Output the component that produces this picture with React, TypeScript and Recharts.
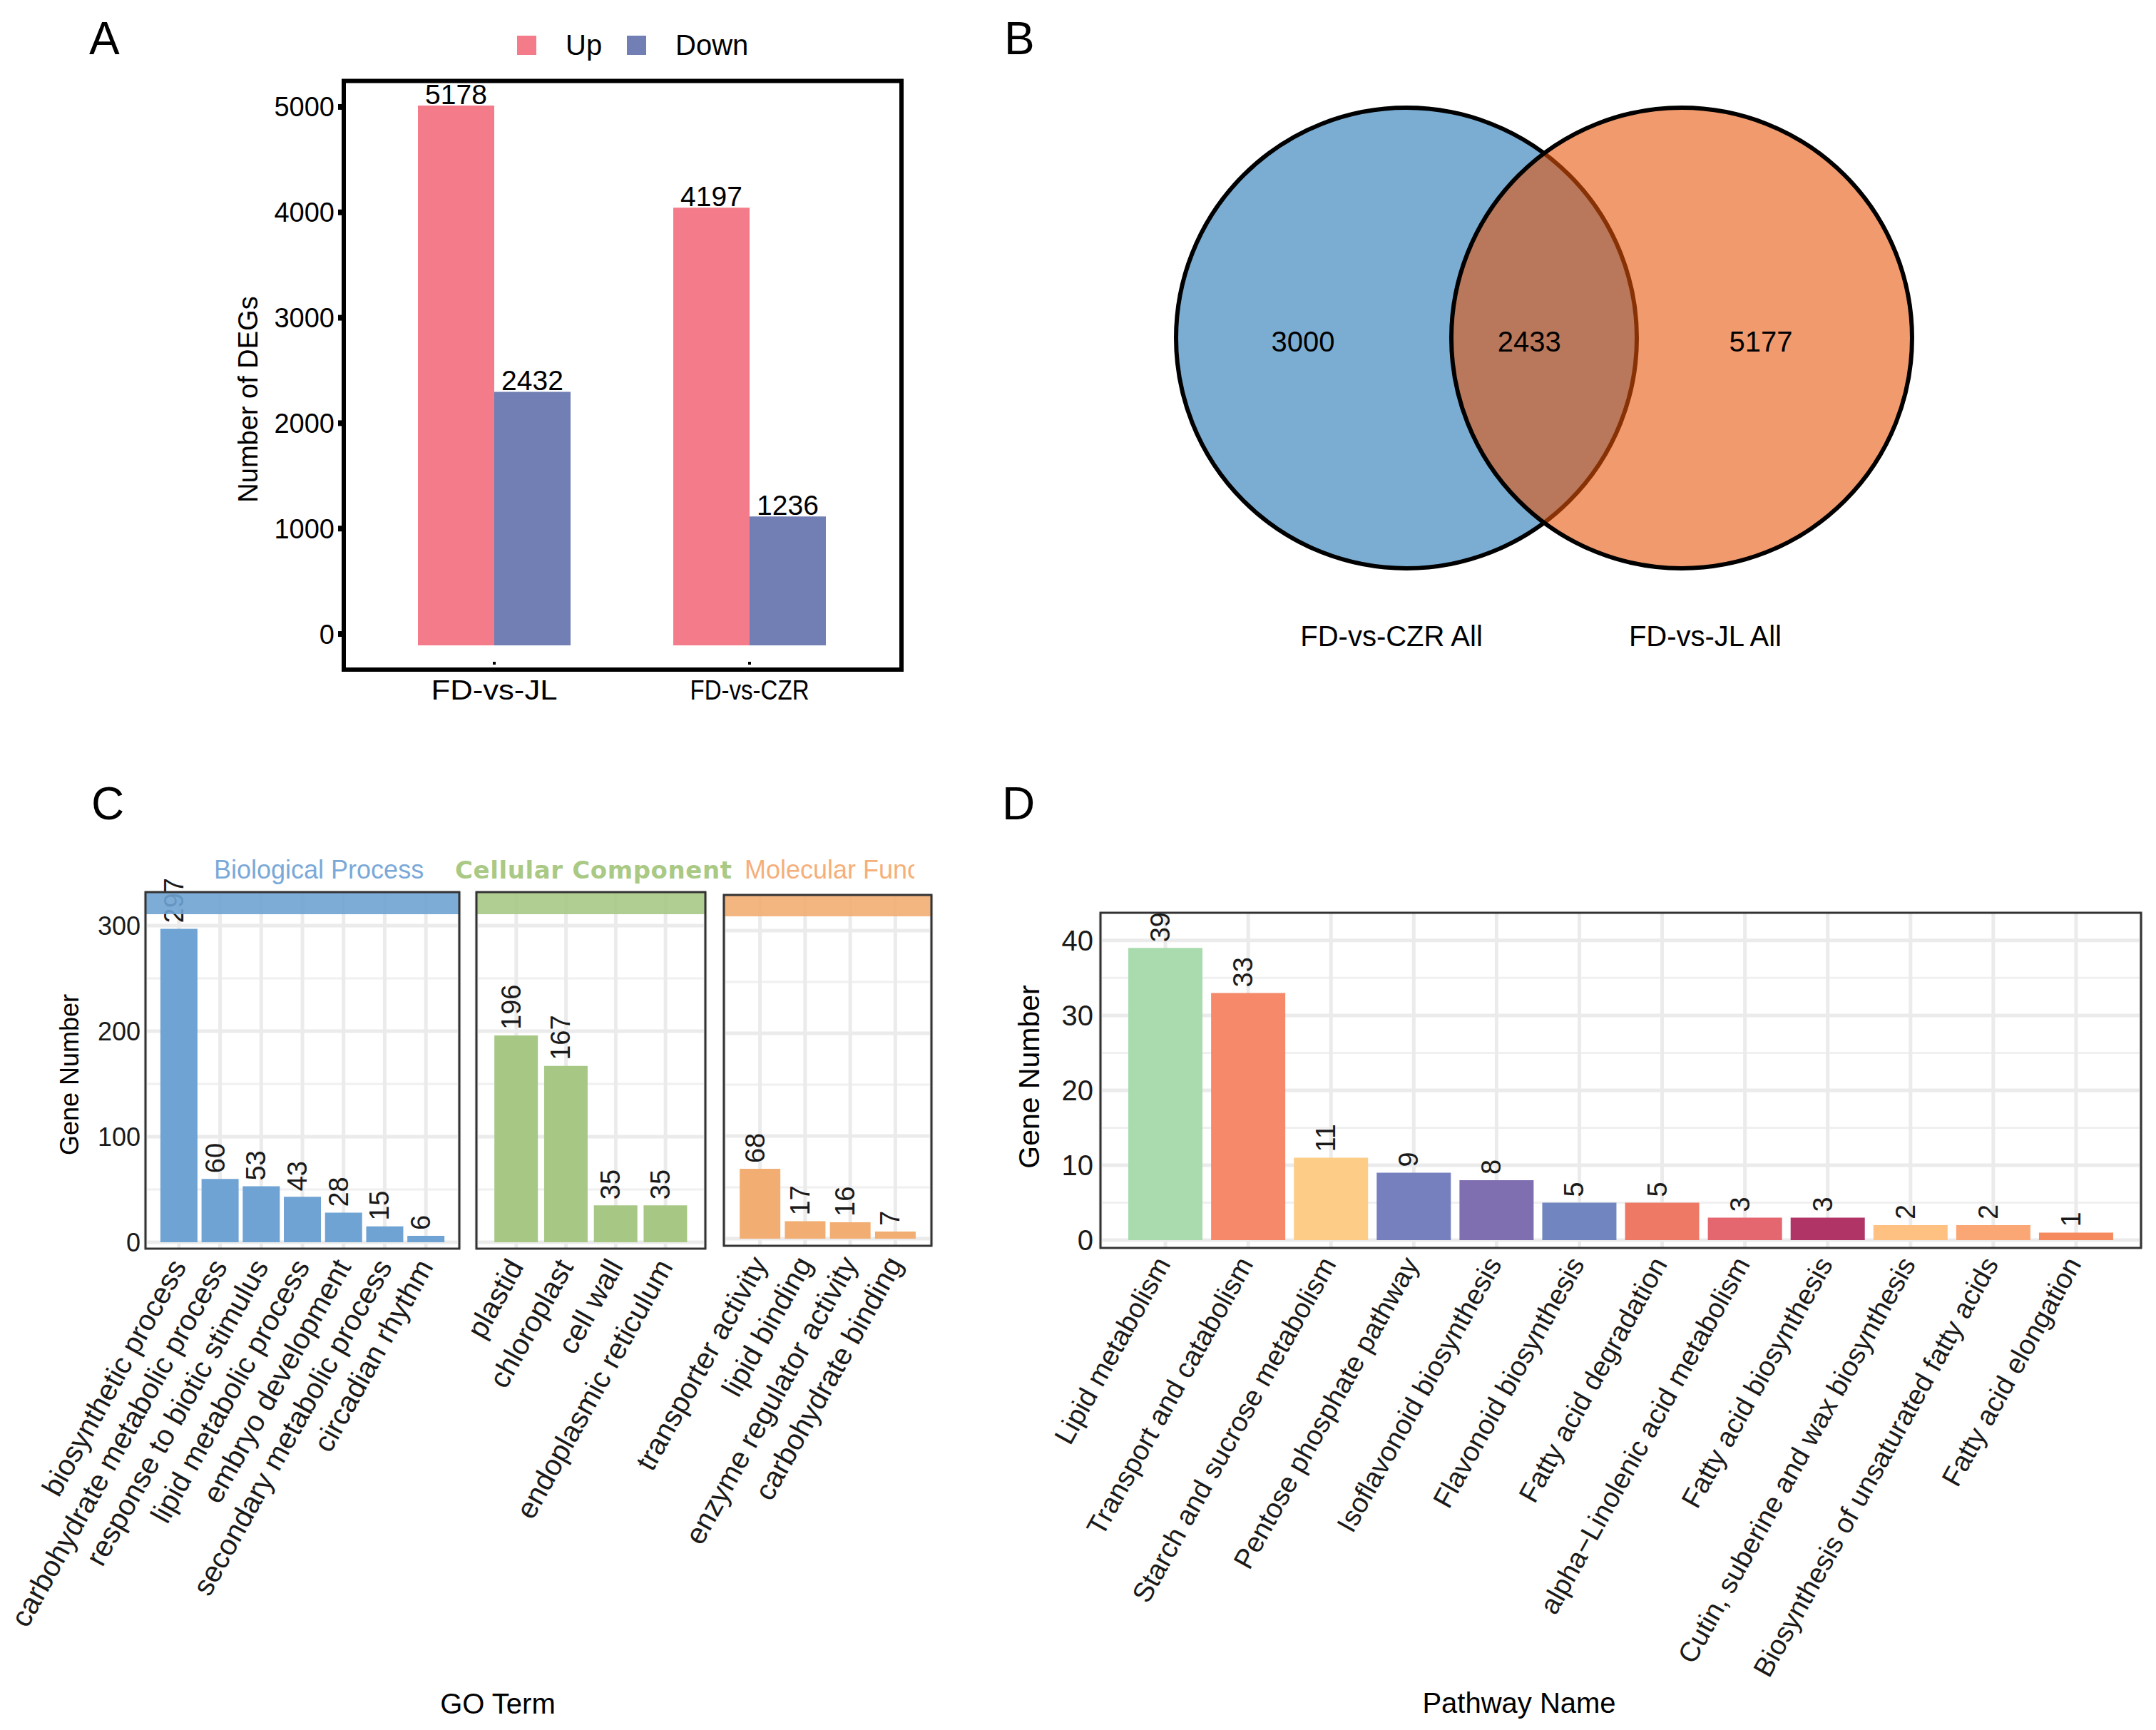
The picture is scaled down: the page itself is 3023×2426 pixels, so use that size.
import React from 'react';
import {
  BarChart, Bar, XAxis, YAxis, CartesianGrid, LabelList, Legend, Cell,
  ScatterChart, Scatter,
} from 'recharts';

const FONT = '"Liberation Sans", Arial, Helvetica, sans-serif';

// ---------------- Panel A data ----------------
const aCategories = ['FD-vs-JL', 'FD-vs-CZR'];
const aSeries = ['Up', 'Down'];
const aUp = [5178, 4197];
const aDown = [2432, 1236];
const aTicks = [0, 1000, 2000, 3000, 4000, 5000];

// ---------------- Panel B data ----------------
const vennSetNames = ['FD-vs-CZR All', 'FD-vs-JL All'];
const vennRegionCounts = [3000, 2433, 5177]; // CZR only, shared, JL only

// ---------------- Panel C data ----------------
const bpTerms = [
  'biosynthetic process', 'carbohydrate metabolic process', 'response to biotic stimulus',
  'lipid metabolic process', 'embryo development', 'secondary metabolic process', 'circadian rhythm',
];
const bpValues = [297, 60, 53, 43, 28, 15, 6];
const ccTerms = ['plastid', 'chloroplast', 'cell wall', 'endoplasmic reticulum'];
const ccValues = [196, 167, 35, 35];
const mfTerms = ['transporter activity', 'lipid binding', 'enzyme regulator activity', 'carbohydrate binding'];
const mfValues = [68, 17, 16, 7];
const cMajorTicks = [0, 100, 200, 300];
const cMinorTicks = [50, 150, 250];

// ---------------- Panel D data ----------------
const dPathways = [
  'Lipid metabolism', 'Transport and catabolism', 'Starch and sucrose metabolism',
  'Pentose phosphate pathway', 'Isoflavonoid biosynthesis', 'Flavonoid biosynthesis',
  'Fatty acid degradation', 'alpha\u2212Linolenic acid metabolism', 'Fatty acid biosynthesis',
  'Cutin, suberine and wax biosynthesis', 'Biosynthesis of unsaturated fatty acids', 'Fatty acid elongation',
];
const dValues = [39, 33, 11, 9, 8, 5, 5, 3, 3, 2, 2, 1];
const dMajorTicks = [0, 10, 20, 30, 40];
const dMinorTicks = [5, 15, 25, 35];

// ---------------- styles / layout ----------------
const A_COLORS = { up: '#F47C8A', down: '#717FB4' };
const A_TICK_TEXT_LENGTH: Record<string, number> = { 'FD-vs-JL': 177, 'FD-vs-CZR': 167 };
const D_COLORS = [
  '#A9DBAE', '#F5896A', '#FDCD87', '#7780BF', '#806FB0', '#7186C0',
  '#EE7A66', '#E4666F', '#B13467', '#FEC181', '#FBA775', '#F58A5F',
];
const VENN_STYLE = [
  { fill: '#7BADD3', opacity: 1 },
  { fill: '#E65409', opacity: 0.59 },
];
const VENN_R = 323;
const VENN_SET_X = [0, 1.195];
const VENN_REGION_X = [-0.449, 0.533, 1.539];
const VENN_NAME_X = [-0.065, 1.297];
const VENN_NAME_Y = -1.294;

const FACETS = [
  {
    key: 'bp', title: 'Biological Process', terms: bpTerms, values: bpValues, color: '#6FA3D3',
    strip: '#6FA3D3', titleColor: '#7AA9D8',
    box: { l: 204, t: 1251, r: 644, b: 1751 }, stripB: 1282, domain: [-6.1, 331.8],
    pad: 18, gap: '5%', leftExtra: 204, showY: true,
  },
  {
    key: 'cc', title: 'Cellular Component', terms: ccTerms, values: ccValues, color: '#A7C885',
    strip: '#A8C986', titleColor: '#A9C985',
    box: { l: 668, t: 1251, r: 989, b: 1751 }, stripB: 1282, domain: [-6.1, 331.8],
    pad: 21, gap: '6%', leftExtra: 220, showY: false,
  },
  {
    key: 'mf', title: 'Molecular Function', terms: mfTerms, values: mfValues, color: '#F2AE72',
    strip: '#F3AE73', titleColor: '#F5AF7A',
    box: { l: 1015, t: 1255, r: 1306, b: 1747 }, stripB: 1285, domain: [-6.94, 334.7],
    pad: 19, gap: '5%', leftExtra: 220, showY: false,
  },
];

const D_BOX = { l: 1543, t: 1280, r: 3002, b: 1750 };

// ---------------- shared renderers ----------------
const RotTick = (props: any) => {
  const { x, y, payload, dxA = 0, dyA = 0, angle = -58, fs = 41 } = props;
  const ax = Number(x) + dxA;
  const ay = Number(y) + dyA;
  return (
    <text
      x={ax} y={ay} dy="0.71em" textAnchor="end"
      transform={`rotate(${angle}, ${ax}, ${ay})`}
      fontSize={fs} fill="#1a1a1a" fontFamily={FONT}
    >
      {payload.value}
    </text>
  );
};

const renderVLabel = (p: any) => {
  const vb = p.viewBox || {};
  const x = Number(vb.x ?? p.x);
  const y = Number(vb.y ?? p.y);
  const w = Number(vb.width ?? p.width);
  const ax = x + w / 2 + 6;
  const ay = y - 8;
  return (
    <text
      x={ax} y={ay} textAnchor="start" transform={`rotate(-90, ${ax}, ${ay})`}
      fontSize={38} fill="#1a1a1a" fontFamily={FONT}
    >
      {p.value}
    </text>
  );
};

const renderCenterText = (p: any) => {
  const vb = p.viewBox || {};
  const x = Number(vb.x ?? p.x) + Number(vb.width ?? p.width ?? 0) / 2;
  const y = Number(vb.y ?? p.y) + Number(vb.height ?? p.height ?? 0) / 2;
  return (
    <text x={x} y={y} textAnchor="middle" dominantBaseline="central" fontSize={40} fill="#000" fontFamily={FONT}>
      {p.value}
    </text>
  );
};

const ATick = (props: any) => {
  const { x, y, payload } = props;
  const len = A_TICK_TEXT_LENGTH[payload.value];
  return (
    <g>
      <rect x={x - 2} y={y - 11} width={4} height={4} fill="#000" />
      <text
        x={x} y={y + 42} textAnchor="middle" fontSize={38} fill="#000" fontFamily={FONT}
        textLength={len} lengthAdjust="spacingAndGlyphs"
      >
        {payload.value}
      </text>
    </g>
  );
};

const renderALegend = (props: any) => {
  const payload = [...(props.payload || [])].sort(
    (a: any, b: any) => aSeries.indexOf(a.value) - aSeries.indexOf(b.value),
  );
  return (
    <div style={{ display: 'flex', alignItems: 'center', fontFamily: FONT, fontSize: 40, lineHeight: '27px', color: '#000' }}>
      {payload.map((e: any, i: number) => (
        <div key={i} style={{ display: 'flex', alignItems: 'center', marginLeft: i ? 25 : 0 }}>
          <span style={{ display: 'inline-block', width: 27, height: 27, background: e.color, marginRight: 41 }} />
          <span style={{ display: 'inline-block', minWidth: i ? 0 : 61 }}>{e.value}</span>
        </div>
      ))}
    </div>
  );
};

// ---------------- Panel A ----------------
function PanelA() {
  const data = aCategories.map((name, i) => ({ name, up: aUp[i], down: aDown[i] }));
  const L = 300, T = 20, W = 1000, H = 1060;
  return (
    <div style={{ position: 'absolute', left: L, top: T }}>
      <BarChart width={W} height={H} data={data} margin={{ top: 93, right: 36, bottom: 81, left: 42 }} barGap={0}>
        <XAxis
          dataKey="name" interval={0} height={60} axisLine={false} tickLine={false}
          tickSize={0} tickMargin={0} padding={{ left: 32, right: 34 }} tick={<ATick />}
        />
        <YAxis yAxisId="bars" hide width={0} type="number" domain={[-233, 5417]} allowDataOverflow />
        <YAxis
          yAxisId="ticks" type="number" domain={[-338, 5250]} allowDataOverflow ticks={aTicks}
          width={140} tickSize={8} tickMargin={5} axisLine={false}
          tickLine={{ stroke: '#000', strokeWidth: 8 }}
          tick={{ fontSize: 38, fill: '#000', fontFamily: FONT }}
        />
        <Legend
          layout="vertical" align="center" verticalAlign="middle"
          wrapperStyle={{ top: 30, left: 425, width: 500 }} content={renderALegend}
        />
        <Bar yAxisId="bars" dataKey="up" name="Up" fill={A_COLORS.up} barSize={107} isAnimationActive={false}>
          <LabelList dataKey="up" position="top" offset={2} fontSize={39} fill="#000" fontFamily={FONT} />
        </Bar>
        <Bar yAxisId="bars" dataKey="down" name="Down" fill={A_COLORS.down} barSize={107} isAnimationActive={false}>
          <LabelList dataKey="down" position="top" offset={2} fontSize={39} fill="#000" fontFamily={FONT} />
        </Bar>
      </BarChart>
    </div>
  );
}

// ---------------- Panel B (Venn) ----------------
function PanelB() {
  const circles = vennSetNames.map((name, i) => ({ x: VENN_SET_X[i], y: 0, name, idx: i }));
  const regions = vennRegionCounts.map((count, i) => ({ x: VENN_REGION_X[i], y: -0.015, count }));
  const names = vennSetNames.map((name, i) => ({ x: VENN_NAME_X[i], y: VENN_NAME_Y, name }));
  const L = 1480, T = 80, W = 1300, H = 880;
  const plotL = 1972 - 1.5 * VENN_R;
  const plotT = 474 - 1.2 * VENN_R;
  const mL = plotL - L;
  const mT = plotT - T;
  const mR = W - mL - 4 * VENN_R;
  const mB = H - mT - 2.7 * VENN_R;
  const renderCircle = (p: any) => {
    const st = VENN_STYLE[p.payload?.idx ?? 0];
    return (
      <circle cx={p.cx} cy={p.cy} r={VENN_R} fill={st.fill} fillOpacity={st.opacity} stroke="#000" strokeWidth={6} />
    );
  };
  const renderNothing = () => <g />;
  return (
    <div style={{ position: 'absolute', left: L, top: T }}>
      <ScatterChart width={W} height={H} margin={{ top: mT, right: mR, bottom: mB, left: mL }}>
        <XAxis type="number" dataKey="x" domain={[-1.5, 2.5]} hide allowDataOverflow />
        <YAxis type="number" dataKey="y" domain={[-1.5, 1.2]} hide allowDataOverflow />
        <Scatter data={circles} shape={renderCircle} isAnimationActive={false} />
        <Scatter data={regions} shape={renderNothing} isAnimationActive={false}>
          <LabelList dataKey="count" position="center" fontSize={40} fill="#000" fontFamily={FONT} />
        </Scatter>
        <Scatter data={names} shape={renderNothing} isAnimationActive={false}>
          <LabelList dataKey="name" content={renderCenterText} />
        </Scatter>
      </ScatterChart>
    </div>
  );
}

// ---------------- Panel C facets ----------------
function GoFacet({ f }: { f: any }) {
  const data = f.terms.map((term: string, i: number) => ({ term, value: f.values[i] }));
  const divL = f.box.l - f.leftExtra;
  const divT = 1200;
  const divR = f.box.r + 16;
  const divB = 2340;
  const yW = f.showY ? 70 : 0;
  return (
    <div style={{ position: 'absolute', left: divL, top: divT }}>
      <BarChart
        width={divR - divL} height={divB - divT} data={data}
        margin={{ top: f.box.t - divT, right: divR - f.box.r, bottom: divB - f.box.b - 1, left: f.leftExtra - yW }}
        barCategoryGap={f.gap}
      >
        <CartesianGrid horizontalValues={cMinorTicks} vertical={false} stroke="#F0F0F0" strokeWidth={3} />
        <CartesianGrid horizontalValues={cMajorTicks} stroke="#EBEBEB" strokeWidth={5} />
        <XAxis
          dataKey="term" interval={0} height={1} axisLine={false} tickLine={false}
          tickSize={0} tickMargin={0} padding={{ left: f.pad, right: f.pad }}
          tick={<RotTick dxA={-14} dyA={11} angle={-61} fs={41} />}
        />
        <YAxis
          type="number" domain={f.domain} allowDataOverflow ticks={cMajorTicks} hide={!f.showY}
          width={yW} axisLine={false} tickLine={false} tickSize={0} tickMargin={7}
          tick={{ fontSize: 36, fill: '#1a1a1a', fontFamily: FONT }}
        />
        <Bar dataKey="value" fill={f.color} isAnimationActive={false}>
          <LabelList dataKey="value" content={renderVLabel} />
        </Bar>
      </BarChart>
    </div>
  );
}

// ---------------- Panel D ----------------
function PanelD() {
  const data = dPathways.map((name, i) => ({ name, value: dValues[i] }));
  const box = D_BOX;
  const divL = 1380, divT = 1200, divR = 3020, divB = 2420;
  const yW = 60;
  return (
    <div style={{ position: 'absolute', left: divL, top: divT }}>
      <BarChart
        width={divR - divL} height={divB - divT} data={data}
        margin={{ top: box.t - divT, right: divR - box.r, bottom: divB - box.b - 1, left: box.l - divL - yW }}
        barCategoryGap="5.2%"
      >
        <CartesianGrid horizontalValues={dMinorTicks} vertical={false} stroke="#F0F0F0" strokeWidth={3} />
        <CartesianGrid horizontalValues={dMajorTicks} stroke="#EBEBEB" strokeWidth={5} />
        <XAxis
          dataKey="name" interval={0} height={1} axisLine={false} tickLine={false}
          tickSize={0} tickMargin={0} padding={{ left: 33, right: 33 }}
          tick={<RotTick dxA={-16} dyA={9} angle={-61} fs={39} />}
        />
        <YAxis
          type="number" domain={[-1.05, 43.7]} allowDataOverflow ticks={dMajorTicks}
          width={yW} axisLine={false} tickLine={false} tickSize={0} tickMargin={10}
          tick={{ fontSize: 40, fill: '#1a1a1a', fontFamily: FONT }}
        />
        <Bar dataKey="value" isAnimationActive={false}>
          {data.map((d, i) => (
            <Cell key={d.name} fill={D_COLORS[i]} />
          ))}
          <LabelList dataKey="value" content={renderVLabel} />
        </Bar>
      </BarChart>
    </div>
  );
}

// ---------------- overlay: frames, strips, titles ----------------
function Overlay() {
  const vTitle = (text: string, cx: number, cy: number, fs: number) => (
    <text
      x={cx} y={cy} textAnchor="middle" dominantBaseline="central" fontSize={fs} fill="#000"
      transform={`rotate(-90, ${cx}, ${cy})`}
    >
      {text}
    </text>
  );
  return (
    <svg
      width={3023} height={2426}
      style={{ position: 'absolute', left: 0, top: 0, pointerEvents: 'none' }}
      fontFamily={FONT}
    >
      <defs>
        <clipPath id="clipBP"><rect x={290} y={1180} width={304} height={70} /></clipPath>
        <clipPath id="clipMF"><rect x={1035} y={1180} width={247} height={70} /></clipPath>
      </defs>

      {/* panel letters */}
      <text x={125} y={76} fontSize={64} fill="#000">A</text>
      <text x={1408} y={76} fontSize={64} fill="#000">B</text>
      <text x={128} y={1149} fontSize={64} fill="#000">C</text>
      <text x={1405} y={1149} fontSize={64} fill="#000">D</text>

      {/* panel A frame + title */}
      <rect x={482} y={113.5} width={782} height={825.5} fill="none" stroke="#000" strokeWidth={6} />
      {vTitle('Number of DEGs', 348, 560, 38)}

      {/* panel C strips, frames, strip titles */}
      {FACETS.map((f) => (
        <g key={f.key}>
          <rect x={f.box.l} y={f.box.t} width={f.box.r - f.box.l} height={f.stripB - f.box.t} fill={f.strip} fillOpacity={0.9} />
          <rect x={f.box.l} y={f.box.t} width={f.box.r - f.box.l} height={f.box.b - f.box.t} fill="none" stroke="#333" strokeWidth={3} />
        </g>
      ))}
      <text x={300} y={1232} fontSize={36} fill={FACETS[0].titleColor} clipPath="url(#clipBP)">{FACETS[0].title}</text>
      <text
        x={638} y={1232} fontSize={34} fontWeight="bold" letterSpacing={0.6}
        fontFamily='"DejaVu Sans", Verdana, sans-serif' fill={FACETS[1].titleColor}
      >
        {FACETS[1].title}
      </text>
      <text x={1044} y={1232} fontSize={36} fill={FACETS[2].titleColor} clipPath="url(#clipMF)">{FACETS[2].title}</text>
      {vTitle('Gene Number', 97, 1507, 36)}
      <text x={698} y={2403} textAnchor="middle" fontSize={40} fill="#000">GO Term</text>

      {/* panel D frame + titles */}
      <rect x={D_BOX.l} y={D_BOX.t} width={D_BOX.r - D_BOX.l} height={D_BOX.b - D_BOX.t} fill="none" stroke="#333" strokeWidth={3} />
      {vTitle('Gene Number', 1443, 1510, 41)}
      <text x={2130} y={2402} textAnchor="middle" fontSize={40} fill="#000">Pathway Name</text>
    </svg>
  );
}

export default function App() {
  return (
    <div
      style={{
        position: 'absolute', left: 0, top: 0, width: 3023, height: 2426,
        background: '#fff', fontFamily: FONT, overflow: 'hidden',
      }}
    >
      <PanelA />
      <PanelB />
      {FACETS.map((f) => (
        <GoFacet key={f.key} f={f} />
      ))}
      <PanelD />
      <Overlay />
    </div>
  );
}
